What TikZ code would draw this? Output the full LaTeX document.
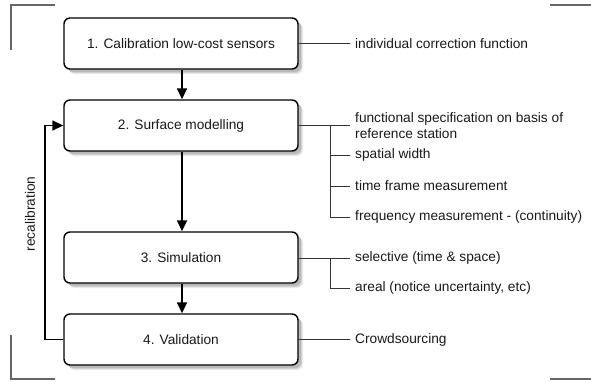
\documentclass[tikz,border=0pt]{standalone}
\usepackage{fontspec}
\setmainfont{Liberation Sans}
\usetikzlibrary{arrows.meta}
\tikzset{
  stage/.style={draw=black, line width=1.4pt, rounded corners=6pt, fill=white,
    minimum width=234pt, minimum height=51pt, inner sep=0pt,
    font=\fontsize{13.7}{16.5}\selectfont, text=black!90,
    preaction={fill=black, opacity=0.08, transform canvas={xshift=5pt,yshift=-5pt}},
    preaction={fill=black, opacity=0.10, transform canvas={xshift=4pt,yshift=-4pt}},
    preaction={fill=black, opacity=0.12, transform canvas={xshift=3pt,yshift=-3pt}}},
  note/.style={anchor=west, inner xsep=5pt, inner ysep=0pt, align=left,
    font=\fontsize{13.7}{16.5}\selectfont, text=black!90},
  flow/.style={line width=1.5pt, -{Triangle[width=10pt,length=11pt]}},
  twig/.style={line width=0.9pt, draw=black!80},
  cornermark/.style={line width=2pt, draw=black!60, line cap=butt}
}
\begin{document}
\begin{tikzpicture}[x=1pt, y=-1pt]
  \useasboundingbox (0,0) rectangle (591,381);

  % frame corner marks
  \draw[cornermark] (55,5) -- (11,5) -- (11,50);
  \draw[cornermark] (550,5) -- (591,5);
  \draw[cornermark] (11,335) -- (11,379) -- (55,379);
  \draw[cornermark] (550,379) -- (591,379);

  % process stages
  \node[stage] (b1) at (181,43.5)  {1. Calibration low-cost sensors};
  \node[stage] (b2) at (181,125.5) {2. Surface modelling};
  \node[stage] (b3) at (181,257.5) {3. Simulation};
  \node[stage] (b4) at (181,339.5) {4. Validation};

  % main flow
  \draw[flow] (b1.south -| 182,0) -- (b2.north -| 182,0);
  \draw[flow] (b2.south -| 182,0) -- (b3.north -| 182,0);
  \draw[flow] (b3.south -| 182,0) -- (b4.north -| 182,0);

  % feedback loop
  \coordinate (loop) at (45,339.5);
  \draw[flow] (b4.west) -- (loop) |- (b2.west);
  \node[rotate=90, font=\fontsize{13.7}{16.5}\selectfont, text=black!90] (recal) at (30,214) {recalibration};

  % annotations
  \node[note] (l1)  at (350,43.5)  {individual correction function};
  \node[note] (l2a) at (350,125.5) {functional specification on basis of\\reference station};
  \node[note] (l2b) at (350,155)   {spatial width};
  \node[note] (l2c) at (350,186)   {time frame measurement};
  \node[note] (l2d) at (350,217)   {frequency measurement - (continuity)};
  \node[note] (l3a) at (350,258)   {selective (time \& space)};
  \node[note] (l3b) at (350,288)   {areal (notice uncertainty, etc)};
  \node[note] (l4)  at (350,339.5) {Crowdsourcing};

  \draw[twig] (b1.east) -- (l1.west);
  \draw[twig] (b2.east) -- (l2a.west);
  \coordinate (j2) at (330,125.5);
  \draw[twig] (j2) |- (l2d.west);
  \draw[twig] (j2 |- l2b.west) -- (l2b.west);
  \draw[twig] (j2 |- l2c.west) -- (l2c.west);
  \draw[twig] (b3.east |- l3a.west) -- (l3a.west);
  \coordinate (j3) at (330,258);
  \draw[twig] (j3) |- (l3b.west);
  \draw[twig] (b4.east) -- (l4.west);
\end{tikzpicture}
\end{document}
